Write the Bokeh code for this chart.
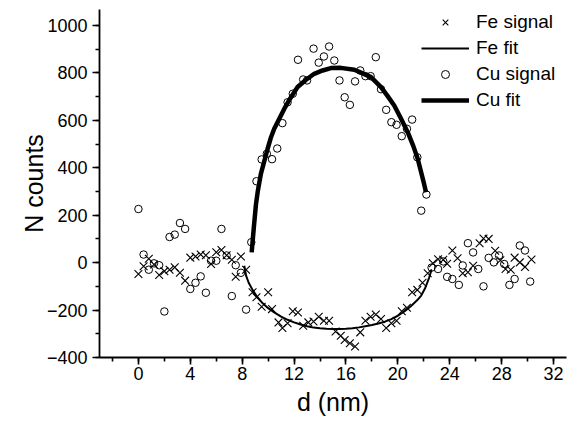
from bokeh.plotting import figure
from bokeh.models import Legend, LegendItem, Range1d, SingleIntervalTicker, LinearAxis
from bokeh.embed import file_html
from bokeh.resources import INLINE

# Fe signal (d in nm, counts)
fe_x = [0.0, 0.4, 0.8, 1.2, 1.6, 2.0, 2.4, 2.8, 3.2, 3.6,
        4.0, 4.4, 4.8, 5.2, 5.6, 6.0, 6.4, 6.8, 7.2, 7.5,
        7.9, 8.3, 8.8, 9.1, 9.5, 10.0, 10.3, 10.8, 11.1, 11.5,
        11.9, 12.3, 12.7, 13.1, 13.5, 13.9, 14.3, 14.7, 15.2, 15.6,
        15.9, 16.3, 16.7, 17.1, 17.5, 17.9, 18.3, 18.7, 19.1, 19.5,
        19.9, 20.3, 20.7, 21.1, 21.5, 21.9, 22.3, 22.7, 23.1, 23.5,
        23.8, 24.2, 24.6, 25.0, 25.4, 25.8, 26.3, 26.6, 27.0, 27.5,
        27.9, 28.3, 28.7, 29.0, 29.4, 29.8, 30.3]
fe_y = [-48, -15, 16, -8, -52, -36, -30, -20, -43, -76,
        21, 26, 34, 31, -6, 44, 53, 31, 12, -60,
        26, -30, -125, -146, -186, -125, -196, -252, -276, -256,
        -205, -210, -266, -252, -248, -228, -245, -245, -290, -308,
        -326, -340, -354, -294, -245, -228, -219, -238, -276, -256,
        -245, -205, -190, -125, -115, -85, -45, -3, 14, 12,
        -5, 51, 18, -45, -41, -13, 82, 102, 100, 50,
        10, -27, -30, 21, 1, -18, 13]

# Cu signal
cu_x = [0.0, 0.4, 0.8, 1.2, 1.6, 2.0, 2.4, 2.8, 3.2, 3.6,
        4.0, 4.4, 4.8, 5.2, 5.6, 6.0, 6.4, 6.8, 7.2, 7.5,
        7.9, 8.3, 8.7, 9.1, 9.5, 9.9, 10.3, 10.7, 11.1, 11.5,
        11.9, 12.3, 12.7, 13.0, 13.5, 13.9, 14.3, 14.7, 15.1, 15.5,
        15.9, 16.3, 16.7, 17.1, 17.5, 17.9, 18.3, 18.7, 19.1, 19.5,
        19.9, 20.3, 20.7, 21.1, 21.5, 21.8, 22.2, 22.6, 23.1, 23.5,
        23.8, 24.2, 24.7, 25.0, 25.4, 25.8, 26.2, 26.6, 27.0, 27.4,
        27.8, 28.2, 28.6, 29.0, 29.4, 29.8, 30.2]
cu_y = [226, 34, -30, -3, -11, -206, 108, 118, 167, 142,
        -111, -85, -58, -127, 8, 8, 142, 30, -141, -11,
        -43, -198, 86, 343, 435, 459, 436, 481, 588, 676,
        712, 855, 772, 768, 902, 843, 869, 911, 852, 768,
        697, 665, 764, 810, 786, 786, 866, 731, 644, 592,
        581, 533, 564, 603, 444, 219, 287, -21, -27, 5,
        -60, -69, -94, -12, 82, 43, -27, -100, 20, 1,
        30, -6, -94, -69, 72, 51, -80]

# Fe fit curve
fe_fit_x = [8.16, 8.3, 8.5, 8.8, 9.1, 9.5, 10.0, 10.5, 11.0, 11.5,
            12.0, 12.5, 13.0, 13.5, 14.0, 14.5, 15.0, 15.5, 16.0, 16.5,
            17.0, 17.5, 18.0, 18.5, 19.0, 19.5, 20.0, 20.5, 21.0, 21.5,
            21.8, 22.1, 22.4, 22.6]
fe_fit_y = [-13, -55, -85, -115, -140, -167, -192, -211, -228, -241,
            -252, -261, -268, -274, -277, -279, -280, -280, -279, -277,
            -273, -268, -263, -257, -249, -238, -224, -206, -184, -158,
            -139, -108, -65, -30]

# Cu fit curve
cu_fit_x = [8.73, 8.9, 9.06, 9.2, 9.44, 9.96, 10.2, 10.47, 11.24, 11.7,
            12.27, 12.9, 13.55, 14.2, 14.84, 15.6, 16.64, 17.2, 17.93, 18.7,
            19.2, 19.72, 20.2, 20.76, 21.2, 21.53, 21.99, 22.17]
cu_fit_y = [43, 150, 245, 300, 374, 480, 525, 564, 648, 692,
            740, 770, 796, 810, 820, 821, 813, 800, 782, 740,
            703, 662, 612, 550, 490, 438, 339, 297]

FONT = "Liberation Sans"

p = figure(width=567, height=430, output_backend="svg", toolbar_location=None,
           x_range=Range1d(-3, 33), y_range=Range1d(-400, 1067),
           x_axis_type=None, y_axis_type=None)
p.min_border_left = 99
p.min_border_right = 1
p.min_border_top = 9
p.min_border_bottom = 73
p.outline_line_color = None
p.xgrid.visible = False
p.ygrid.visible = False
p.background_fill_color = "white"

xaxis = LinearAxis(ticker=SingleIntervalTicker(interval=4, num_minor_ticks=2))
yaxis = LinearAxis(ticker=SingleIntervalTicker(interval=200, num_minor_ticks=2))
for ax in (xaxis, yaxis):
    ax.axis_line_width = 1.8
    ax.axis_line_color = "black"
    ax.major_tick_line_color = "black"
    ax.minor_tick_line_color = "black"
    ax.major_tick_line_width = 1.6
    ax.minor_tick_line_width = 1.6
    ax.major_tick_out = 7
    ax.major_tick_in = 0
    ax.minor_tick_out = 4
    ax.minor_tick_in = 0
    ax.major_label_text_font = FONT
    ax.major_label_text_font_size = "18px"
    ax.major_label_text_color = "black"
    ax.axis_label_text_font = FONT
    ax.axis_label_text_font_style = "normal"
    ax.axis_label_text_color = "black"
xaxis.axis_label = "d (nm)"
xaxis.axis_label_text_font_size = "25px"
xaxis.major_label_standoff = 2
xaxis.axis_label_standoff = 5
yaxis.axis_label = "N counts"
yaxis.axis_label_text_font_size = "25px"
yaxis.major_label_standoff = 5
yaxis.axis_label_standoff = -4
p.add_layout(xaxis, "below")
p.add_layout(yaxis, "left")

r_fe = p.scatter(fe_x, fe_y, marker="x", size=11, line_color="black", line_width=1.1)
r_fefit = p.line(fe_fit_x, fe_fit_y, line_color="black", line_width=2)
r_cu = p.scatter(cu_x, cu_y, marker="circle", size=7.5, fill_color=None,
                 line_color="black", line_width=1)
r_cufit = p.line(cu_fit_x, cu_fit_y, line_color="black", line_width=4.5)

legend = Legend(items=[
    LegendItem(label="Fe signal", renderers=[r_fe]),
    LegendItem(label="Fe fit", renderers=[r_fefit]),
    LegendItem(label="Cu signal", renderers=[r_cu]),
    LegendItem(label="Cu fit", renderers=[r_cufit]),
], location=(322, 246))
legend.glyph_width = 48
legend.glyph_height = 20
legend.label_height = 20
legend.label_standoff = 7
legend.spacing = 4
legend.padding = 0
legend.margin = 0
legend.border_line_color = None
legend.background_fill_alpha = 0
legend.label_text_font = FONT
legend.label_text_font_size = "19px"
legend.label_text_color = "black"
p.add_layout(legend, "center")

open("out.html", "w").write(file_html(p, INLINE))
